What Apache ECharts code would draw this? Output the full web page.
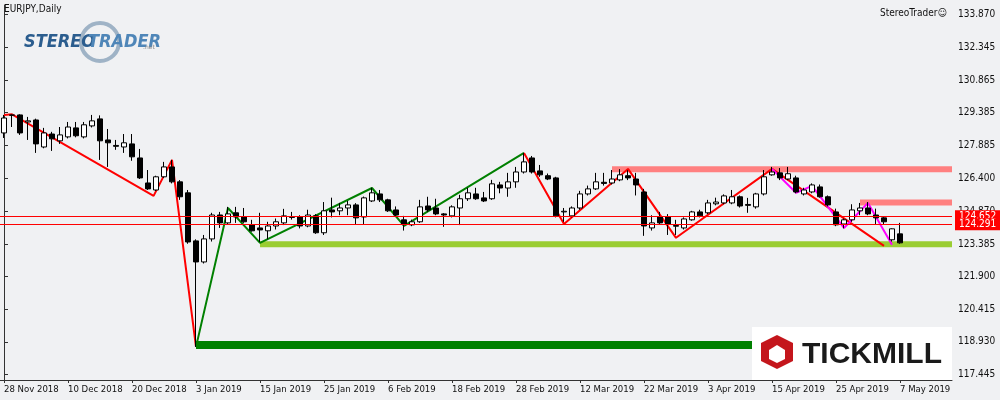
<!DOCTYPE html>
<html><head><meta charset="utf-8">
<script src="https://cdn.jsdelivr.net/npm/echarts@6/dist/echarts.min.js"></script>
<style>html,body{margin:0;padding:0;background:#f0f1f3}#c{width:1000px;height:400px}</style>
</head><body><div id="c"></div>
<script>
// [open, close, low, high]
const ohlc = [
[128.45,129.13,128.22,129.27],[129.25,129.27,128.72,129.30],[129.27,128.45,128.36,129.30],[128.95,129.00,128.13,129.18],
[129.04,127.95,127.54,129.10],[127.81,128.45,127.75,128.68],[128.40,128.18,127.63,128.50],[128.09,128.36,127.95,128.72],
[128.27,128.72,128.20,128.95],[128.68,128.32,128.25,128.95],[128.27,128.82,128.20,128.95],[128.77,129.00,128.70,129.27],
[129.09,128.09,127.22,129.25],[128.13,128.00,126.90,128.63],[127.88,127.84,127.68,128.13],[127.81,128.00,127.54,128.40],
[127.95,127.36,127.18,128.40],[127.31,126.40,126.35,127.72],[126.17,125.90,125.85,126.76],[125.85,126.45,125.80,126.50],
[126.45,126.90,126.40,127.13],[126.90,126.22,126.15,127.22],[126.22,125.54,125.40,126.30],[125.72,123.48,123.40,125.85],
[123.53,122.57,118.70,123.60],[122.57,123.62,122.50,123.80],[123.62,124.71,123.50,124.81],[124.71,124.35,124.12,124.85],
[124.35,124.76,124.30,125.08],[124.81,124.62,124.35,125.08],[124.62,124.40,124.35,125.03],[124.26,123.99,123.95,124.49],
[124.12,124.03,123.48,124.81],[123.99,124.21,123.60,124.40],[124.21,124.40,124.05,124.55],[124.35,124.67,124.25,124.99],
[124.64,124.60,124.50,124.85],[124.62,124.21,124.10,124.70],[124.21,124.71,124.15,124.95],[124.67,123.90,123.85,124.75],
[123.90,124.90,123.80,125.30],[124.94,124.85,124.60,125.50],[124.90,125.03,124.70,125.26],[125.03,125.17,124.70,125.35],
[125.17,124.58,124.30,125.25],[124.62,125.49,124.30,125.55],[125.35,125.72,125.30,125.95],[125.67,125.40,125.30,125.85],
[125.40,124.90,124.85,125.45],[124.94,124.71,124.65,125.10],[124.49,124.30,124.00,124.67],[124.26,124.40,124.20,124.50],
[124.40,125.08,124.35,125.40],[125.12,124.94,124.85,125.54],[125.03,124.76,124.70,125.45],[124.76,124.71,124.17,124.80],
[124.67,125.08,124.60,125.15],[125.03,125.45,124.25,125.63],[125.45,125.72,125.35,125.95],[125.67,125.45,125.40,125.95],
[125.49,125.35,125.30,125.76],[125.45,126.13,125.40,126.31],[126.08,125.94,125.70,126.22],[125.94,126.22,125.54,126.63],
[126.22,126.67,125.95,126.90],[126.67,127.13,126.60,127.54],[127.31,126.67,126.60,127.40],[126.72,126.54,126.45,126.99],
[126.50,126.35,126.30,126.60],[126.40,124.67,124.60,126.45],[124.85,124.88,124.40,125.03],[124.67,125.03,124.60,125.10],
[125.03,125.67,124.95,125.81],[125.67,125.90,125.60,126.05],[125.90,126.22,125.85,126.63],[126.20,126.15,126.05,126.63],
[126.17,126.35,126.10,126.76],[126.31,126.54,126.25,126.80],[126.50,126.40,126.30,126.75],[126.35,126.08,125.60,126.63],
[125.76,124.21,123.76,125.90],[124.12,124.35,124.00,124.70],[124.62,124.35,124.30,124.85],[124.62,124.30,123.80,124.75],
[124.23,124.20,123.80,124.49],[124.12,124.53,124.05,124.60],[124.49,124.85,124.45,124.90],[124.85,124.67,124.60,124.95],
[124.81,125.26,124.75,125.40],[125.22,125.30,125.15,125.50],[125.26,125.58,125.20,125.65],[125.26,125.54,125.20,125.85],
[125.54,125.12,125.05,125.60],[125.19,125.15,124.81,125.49],[125.08,125.67,125.00,125.72],[125.67,126.45,125.60,126.76],
[126.54,126.67,126.50,126.90],[126.63,126.40,126.30,126.85],[126.35,126.59,126.30,126.90],[126.40,125.76,125.70,126.50],
[125.67,125.85,125.60,125.95],[125.76,126.08,125.70,126.15],[125.99,125.54,125.50,126.10],[125.54,125.17,125.10,125.60],
[124.85,124.26,124.20,125.00],[124.30,124.49,124.10,124.55],[124.49,124.94,124.40,125.20],[124.90,125.03,124.70,125.26],
[125.03,124.76,124.70,125.30],[124.71,124.58,124.30,125.00],[124.58,124.40,124.30,124.62],[123.58,124.08,123.50,124.10],
[123.85,123.44,123.40,124.35]
];
const dateLabels = ["28 Nov 2018","10 Dec 2018","20 Dec 2018","3 Jan 2019","15 Jan 2019","25 Jan 2019","6 Feb 2019","18 Feb 2019","28 Feb 2019","12 Mar 2019","22 Mar 2019","3 Apr 2019","15 Apr 2019","25 Apr 2019","7 May 2019"];
const priceTicks = [133.870,132.345,130.865,129.385,127.885,126.400,124.870,123.385,121.900,120.415,118.930,117.445];
const redZigzag1 = [[0,129.27],[1,129.30],[18.7,125.58],[21,127.22],[24,118.70]];
const greenZigzag = [[24,118.70],[28,125.03],[32,123.44],[46,125.94],[50,124.21],[65,127.54]];
const redZigzag2 = [[65,127.54],[70,124.30],[78,126.81],[84,123.67],[96,126.81],[110,123.30]];
const magentaZigzag = [[96,126.81],[99,125.72],[101,126.04],[105,124.12],[108,125.26],[111,123.35]];
const zoneDarkGreen = [[24,118.78],[118.5,118.78]];
const zoneLightGreen = [[32,123.38],[118.5,123.38]];
const zonePink1 = [[76,126.80],[118.5,126.80]];
const zonePink2 = [[107,125.28],[118.5,125.28]];
const levels = [124.652,124.291];

const N = 119;
const cats = Array.from({length:N},(_,i)=>i);
const lineS = (d,color,w)=>({type:'line',data:d,xAxisIndex:1,symbol:'none',silent:true,lineStyle:{color:color,width:w,cap:'butt'},z:3,animation:false});
const chart = echarts.init(document.getElementById('c'));
chart.setOption({
  backgroundColor:'#f0f1f3',animation:false,
  grid:{left:0,right:48,top:5,bottom:20},
  xAxis:[{type:'category',data:cats,boundaryGap:true,
    axisLine:{lineStyle:{color:'#333'}},axisTick:{show:true,interval:7,alignWithLabel:true,length:3,lineStyle:{color:'#333'}},
    axisLabel:{interval:7,align:'left',margin:5,fontFamily:'DejaVu Sans Condensed',fontSize:9.5,color:'#111',
      formatter:(v,i)=>dateLabels[i/8]||''},splitLine:{show:false}},
   {type:'value',min:-0.5,max:N-0.5,show:false}],
  yAxis:{type:'value',position:'right',min:117.19,max:134.28,scale:true,
    axisLine:{show:true,lineStyle:{color:'#333'}},
    axisTick:{show:true,length:4,customValues:priceTicks,lineStyle:{color:'#333'}},
    axisLabel:{customValues:priceTicks,fontFamily:'DejaVu Sans Condensed',fontSize:10,color:'#111',margin:6,formatter:v=>v.toFixed(3)},
    splitLine:{show:false}},
  series:[
    lineS(zoneDarkGreen,'#008000',8),
    lineS(zoneLightGreen,'#9acd32',6),
    lineS(zonePink1,'#ff8080',6),
    lineS(zonePink2,'#ff8080',6),
    {type:'candlestick',data:ohlc,barWidth:5,z:4,
     itemStyle:{color:'#ffffff',color0:'#000000',borderColor:'#000000',borderColor0:'#000000',borderWidth:1},
     markLine:{symbol:'none',silent:true,precision:3,lineStyle:{color:'#ff0000',width:1,type:'solid'},
       label:{position:'end',formatter:p=>Number(p.value).toFixed(3),backgroundColor:'#ff0000',color:'#fff',fontFamily:'DejaVu Sans Condensed',fontSize:10,padding:[1,4],distance:3},
       data:levels.map(v=>({yAxis:v}))}},
    lineS(redZigzag1,'#ff0000',2),
    lineS(greenZigzag,'#008000',2),
    lineS(redZigzag2,'#ff0000',2),
    lineS(magentaZigzag,'#ff00ff',2)
  ],
  graphic:[
    {type:'text',left:4,top:4,style:{text:'EURJPY,Daily',font:'10px DejaVu Sans Condensed',fill:'#111'}},
    {type:'text',left:880,top:8,style:{text:'StereoTrader☺',font:'10px DejaVu Sans Condensed',fill:'#111'}},
    {type:'circle',shape:{cx:100,cy:42,r:19},style:{fill:'none',stroke:'#9fb3c6',lineWidth:4}},
    {type:'text',left:24,top:33,style:{text:'STEREO',font:'italic bold 18px DejaVu Sans Condensed',fill:'#2b5d8e'}},
    {type:'text',left:88,top:33,style:{text:'TRADER',font:'italic bold 18px DejaVu Sans Condensed',fill:'#4f86b8'}},
    {type:'text',left:143,top:44,style:{text:'.net',font:'6px DejaVu Sans',fill:'#888'}},
    {type:'rect',shape:{x:752,y:327,width:200,height:53},style:{fill:'#ffffff'},z:10},
    {type:'polygon',shape:{points:[[777,335],[793,343],[793,361],[777,369],[761,361],[761,343]]},style:{fill:'#c4161c'},z:11},
    {type:'polygon',shape:{points:[[777,345],[785,350],[785,359],[777,363],[769,359],[769,350]]},style:{fill:'#ffffff'},z:12},
    {type:'text',left:802,top:340,style:{text:'TICKMILL',font:'bold 30px Liberation Sans',fill:'#1a1a1a'},z:12}
  ]
});
</script></body></html>
